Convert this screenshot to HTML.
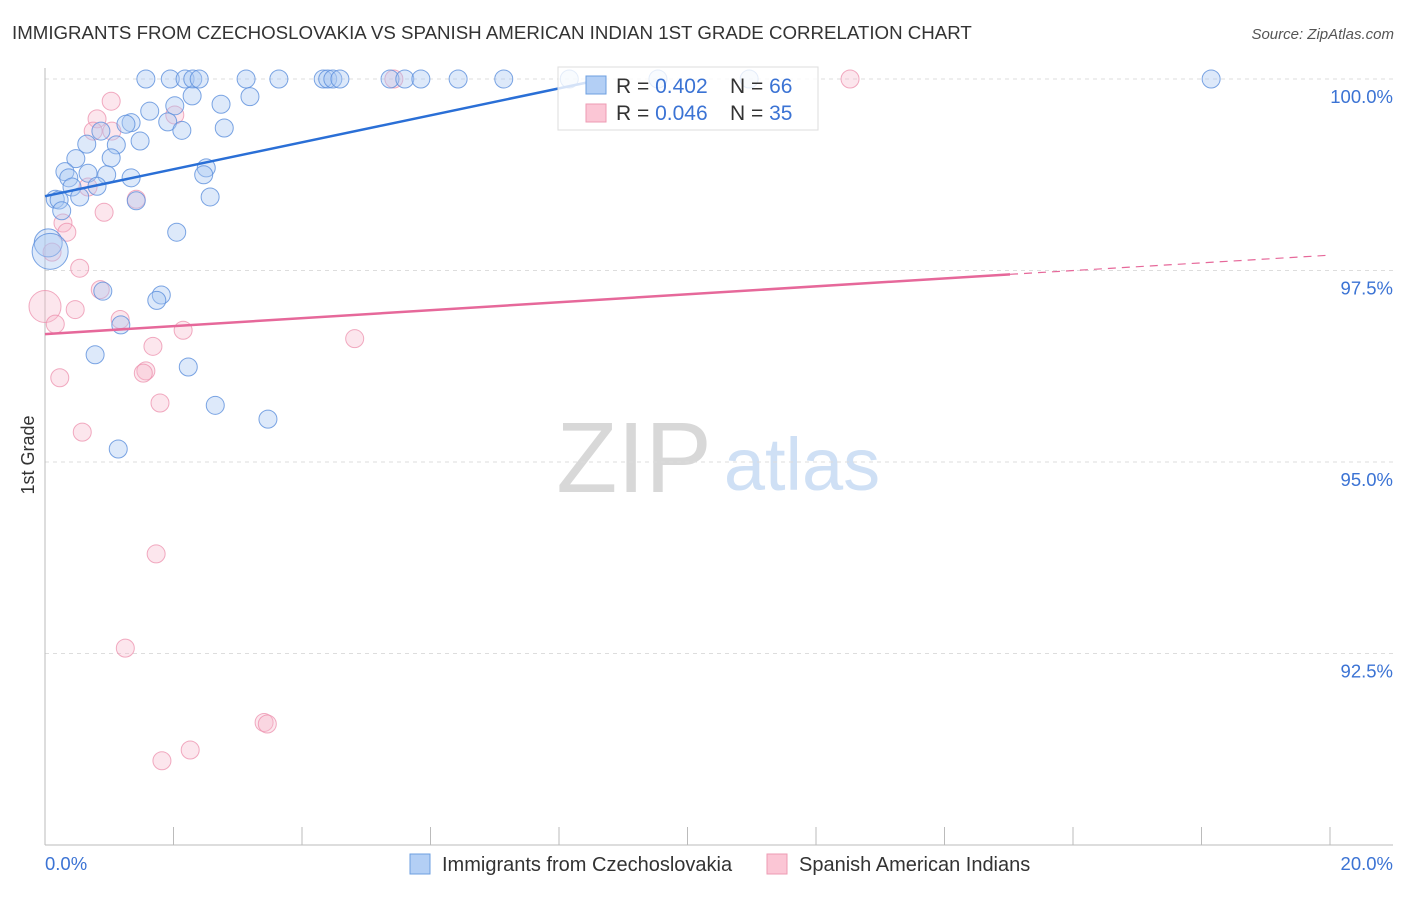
<!DOCTYPE html>
<html><head><meta charset="utf-8"><style>
body{margin:0;background:#fff;font-family:"Liberation Sans",sans-serif;}
svg text{font-family:"Liberation Sans",sans-serif;}
</style></head><body>
<svg id="chart" width="1406" height="892" xmlns="http://www.w3.org/2000/svg">
<text x="12" y="39" font-size="18.7" fill="#333">IMMIGRANTS FROM CZECHOSLOVAKIA VS SPANISH AMERICAN INDIAN 1ST GRADE CORRELATION CHART</text>
<text x="1394" y="39" font-size="15" fill="#555" text-anchor="end" font-style="italic">Source: ZipAtlas.com</text>
<g>
<text x="634" y="492" font-size="100" fill="#d8d8d8" font-family="Liberation Serif, serif" text-anchor="middle">ZIP</text>
<text x="802" y="490" font-size="74" fill="#cfe0f5" text-anchor="middle">atlas</text>
</g>
<g id="grid"></g>
<g id="axes"></g>
<g id="marks"></g>
<text transform="translate(34,455) rotate(-90)" font-size="18" fill="#333" text-anchor="middle">1st Grade</text>
<g>
<rect x="558" y="67" width="260" height="63" fill="#fff" fill-opacity="0.8" stroke="#ddd"/>
<rect x="586" y="76" width="20" height="18" fill="#b3cff5" stroke="#6d9fe0"/>
<rect x="586" y="104" width="20" height="18" fill="#fbc6d5" stroke="#ee9bb3"/>
<text x="616" y="93" font-size="21" fill="#333">R = <tspan fill="#3b73d4">0.402</tspan><tspan x="730">N = </tspan><tspan fill="#3b73d4">66</tspan></text>
<text x="616" y="120" font-size="21" fill="#333">R = <tspan fill="#3b73d4">0.046</tspan><tspan x="730">N = </tspan><tspan fill="#3b73d4">35</tspan></text>
</g>
<g>
<rect x="410" y="854" width="20" height="20" fill="#b3cff5" stroke="#6d9fe0"/>
<text x="442" y="871" font-size="20" fill="#333">Immigrants from Czechoslovakia</text>
<rect x="767" y="854" width="20" height="20" fill="#fbc6d5" stroke="#ee9bb3"/>
<text x="799" y="871" font-size="20" fill="#333">Spanish American Indians</text>
</g>
</svg>
<script>
const blueX=[1.57,1.95,2.18,2.30,2.40,3.13,3.64,4.33,4.40,4.48,4.59,5.37,5.60,5.85,6.43,7.14,8.16,9.54,10.96,18.15,
2.29,2.74,3.19,2.02,1.63,1.91,1.34,1.26,2.13,2.79,0.87,1.48,0.65,1.11,0.48,1.03,2.51,2.47,0.31,0.37,0.67,0.96,1.34,0.42,0.81,0.16,0.22,0.54,1.42,2.57,0.26,2.05,0.05,0.08,0.90,1.81,1.74,1.18,0.78,2.23,2.65,3.47,1.14];
const blueY=[100,100,100,100,100,100,100,100,100,100,100,100,100,100,100,100,100,100,100,100,
99.78,99.67,99.77,99.65,99.58,99.44,99.43,99.41,99.33,99.36,99.32,99.19,99.15,99.14,98.96,98.97,98.84,98.75,98.79,98.71,98.77,98.75,98.71,98.59,98.60,98.43,98.42,98.46,98.41,98.46,98.28,98.00,97.86,97.75,97.23,97.18,97.11,96.79,96.40,96.24,95.74,95.56,95.17];
const blueR=[9,9,9,9,9,9,9,9,9,9,9,9,9,9,9,9,9,9,9,9,9,9,9,9,9,9,9,9,9,9,9,9,9,9,9,9,9,9,9,9,9,9,9,9,9,9,9,9,9,9,9,9,14,18,9,9,9,9,9,9,9,9,9];
const pinkX=[1.03,0.81,0.75,1.04,2.02,0.92,1.42,0.28,0.34,0.11,0.54,0.86,0.0,0.47,0.16,1.17,2.15,1.68,4.82,1.57,1.53,0.23,1.79,0.58,1.73,1.25,3.41,3.46,2.26,1.82,5.43,12.53,0.67];
const pinkY=[99.71,99.48,99.32,99.32,99.53,98.26,98.43,98.12,98.00,97.74,97.53,97.25,97.03,96.99,96.80,96.86,96.72,96.51,96.61,96.19,96.16,96.10,95.77,95.39,93.80,92.57,91.60,91.58,91.24,91.10,100,100,98.59];
const pinkR=[9,9,9,9,9,9,9,9,9,9,9,9,16,9,9,9,9,9,9,9,9,9,9,9,9,9,9,9,9,9,9,9,9];
const yTicks=[100,97.5,95,92.5];
const yTickLabels=["100.0%","97.5%","95.0%","92.5%"];
const blueLine=[[0,98.47],[8.64,99.99]];
const pinkLine=[[0,96.67],[15.02,97.45]];
const pinkDash=[[15.02,97.45],[20,97.70]];
const NS="http://www.w3.org/2000/svg";
const xs=v=>45+v*64.25;
const ys=v=>79+(100-v)*76.6;
function mk(tag,attrs,parent){const e=document.createElementNS(NS,tag);for(const k in attrs)e.setAttribute(k,attrs[k]);parent.appendChild(e);return e;}
const grid=document.getElementById('grid'),axes=document.getElementById('axes'),marks=document.getElementById('marks');
yTicks.forEach((t,i)=>{
 const l=mk('line',{x1:45,x2:1393,y1:ys(t),y2:ys(t),stroke:'#ddd','stroke-dasharray':'4,4'},grid);
 
 
 const tx=mk('text',{x:1393,y:ys(t)+24,'font-size':18.5,fill:'#3b73d4','text-anchor':'end'},axes);
 tx.textContent=yTickLabels[i];
 
 
});
const ya=mk('line',{x1:45,x2:45,y1:68,y2:845,stroke:'#bbb'},axes);


const xa=mk('line',{x1:45,x2:1393,y1:845,y2:845,stroke:'#bbb'},axes);


for(let v=0;v<=20;v+=2){
 const t=mk('line',{x1:xs(v),x2:xs(v),y1:827,y2:845,stroke:'#bbb'},axes);
 
 
}
const x0=mk('text',{x:45,y:870,'font-size':18.5,fill:'#3b73d4'},axes);x0.textContent='0.0%';


const x1=mk('text',{x:1393,y:870,'font-size':18.5,fill:'#3b73d4','text-anchor':'end'},axes);x1.textContent='20.0%';


pinkX.forEach((v,i)=>{
 const c=mk('circle',{cx:xs(v),cy:ys(pinkY[i]),r:pinkR[i],fill:'#f7b6ca','fill-opacity':0.35,stroke:'#ec8fac','stroke-opacity':0.75},marks);
 
 
});
blueX.forEach((v,i)=>{
 const c=mk('circle',{cx:xs(v),cy:ys(blueY[i]),r:blueR[i],fill:'#a9c8f2','fill-opacity':0.4,stroke:'#5b8fdc','stroke-opacity':0.8},marks);
 
 
});
const bl=mk('line',{x1:xs(blueLine[0][0]),y1:ys(blueLine[0][1]),x2:xs(blueLine[1][0]),y2:ys(blueLine[1][1]),stroke:'#2a6fd6','stroke-width':2.5},marks);


const pl=mk('line',{x1:xs(pinkLine[0][0]),y1:ys(pinkLine[0][1]),x2:xs(pinkLine[1][0]),y2:ys(pinkLine[1][1]),stroke:'#e6689a','stroke-width':2.5},marks);


const pd=mk('line',{x1:xs(pinkDash[0][0]),y1:ys(pinkDash[0][1]),x2:xs(pinkDash[1][0]),y2:ys(pinkDash[1][1]),stroke:'#e6689a','stroke-width':1.2,'stroke-dasharray':'8,6'},marks);


</script>
</body></html>
